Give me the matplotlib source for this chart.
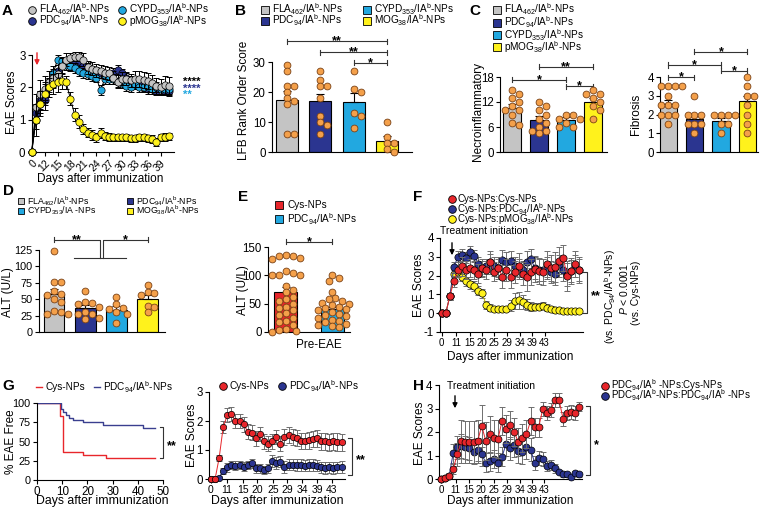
import numpy as np
import matplotlib
matplotlib.use('Agg')
import matplotlib.pyplot as plt
import matplotlib.transforms as mtransforms
from matplotlib.lines import Line2D
from matplotlib.patches import FancyArrowPatch

plt.rcParams['font.family'] = ['Liberation Sans', 'DejaVu Sans']
plt.rcParams['mathtext.fontset'] = 'custom'
plt.rcParams['mathtext.rm'] = 'Liberation Sans'
plt.rcParams['mathtext.it'] = 'Liberation Sans:italic'
plt.rcParams['mathtext.bf'] = 'Liberation Sans:bold'
plt.rcParams['axes.unicode_minus'] = False

# ------------------------------------------------------------------ DATA
# Panel A (EAE scores, 4 NP groups)
a_days = [0, 10, 11, 12, 13, 14, 15, 16, 17, 18, 19, 20, 21, 22, 23, 24, 25, 26,
          27, 28, 29, 30, 31, 32, 33, 34, 35, 36, 37, 38, 39, 40, 41]
a_tick_days = [0, 12, 15, 18, 21, 24, 27, 30, 33, 36, 39]
a_fla = [0, 1.4, 1.78, 1.95, 2.15, 2.28, 2.4, 2.65, 2.85, 2.9, 2.95, 2.95, 2.85, 2.62, 2.57, 2.53, 2.5,
         2.45, 2.43, 2.3, 2.17, 2.27, 2.27, 2.22, 2.25, 2.27, 2.22, 2.19, 2.12, 2.05, 2.0, 2.06, 2.03]
a_fla_err = [0, 0.4, 0.45, 0.4, 0.35, 0.3, 0.3, 0.25, 0.2, 0.15, 0.15, 0.15, 0.2, 0.2, 0.2, 0.2, 0.2,
             0.2, 0.2, 0.2, 0.2, 0.2, 0.2, 0.2, 0.25, 0.25, 0.25, 0.25, 0.25, 0.25, 0.25, 0.3, 0.3]
a_pdc = [0, 1.2, 1.6, 1.6, 2.05, 2.2, 2.5, 2.75, 2.75, 2.7, 2.75, 2.8, 2.65, 2.6, 2.5, 2.48, 2.43,
         2.4, 2.35, 2.45, 2.55, 2.43, 2.3, 2.2, 2.15, 2.1, 2.05, 1.95, 2.0, 1.9, 1.95, 1.9, 1.9]
a_pdc_err = [0, 0.3, 0.3, 0.3, 0.25, 0.2, 0.2, 0.15, 0.15, 0.15, 0.15, 0.15, 0.15, 0.15, 0.15, 0.15, 0.15,
             0.15, 0.15, 0.15, 0.15, 0.15, 0.15, 0.15, 0.15, 0.15, 0.15, 0.15, 0.15, 0.15, 0.15, 0.15, 0.15]
a_cypd = [0, 1.0, 1.5, 1.85, 2.05, 2.45, 2.85, 2.8, 2.7, 2.65, 2.6, 2.5, 2.45, 2.4, 2.35, 2.3, 1.92,
          2.25, 2.25, 2.25, 2.15, 2.12, 2.05, 2.0, 2.1, 2.0, 2.0, 2.0, 1.95, 2.0, 1.95, 1.95, 1.95]
a_cypd_err = [0, 0.3, 0.3, 0.25, 0.2, 0.2, 0.15, 0.15, 0.15, 0.15, 0.15, 0.15, 0.15, 0.15, 0.15, 0.15, 0.15,
              0.15, 0.15, 0.15, 0.15, 0.15, 0.15, 0.15, 0.15, 0.15, 0.15, 0.15, 0.15, 0.15, 0.15, 0.15, 0.15]
a_mog = [0, 1.0, 1.5, 1.8, 2.0, 2.1, 2.15, 2.2, 2.15, 1.65, 1.15, 0.93, 0.72, 0.6, 0.52, 0.45, 0.58,
         0.5, 0.47, 0.45, 0.45, 0.45, 0.45, 0.42, 0.42, 0.45, 0.45, 0.42, 0.4, 0.3, 0.45, 0.47, 0.48]
a_mog_err = [0, 0.5, 0.4, 0.35, 0.3, 0.3, 0.3, 0.25, 0.2, 0.2, 0.2, 0.2, 0.15, 0.15, 0.15, 0.15, 0.15,
             0.12, 0.12, 0.12, 0.12, 0.12, 0.12, 0.12, 0.12, 0.12, 0.12, 0.12, 0.12, 0.12, 0.12, 0.12, 0.12]

# Panel B (LFB rank order score)
b_means = [17.5, 17.0, 16.8, 3.7]
b_sems = [2.8, 2.5, 2.8, 1.5]
b_dots = [[29, 27, 22, 22, 20, 18, 17, 16, 6, 6],
          [27, 24, 22, 22, 18, 12, 10, 9, 6],
          [27, 21, 20, 13, 12, 8],
          [10, 5, 3, 3, 1, 0]]

# Panel C (necroinflammatory / fibrosis)
c1_means = [10.5, 7.6, 7.8, 12.0]
c1_sems = [1.0, 1.1, 0.7, 0.9]
c1_dots = [[15, 14, 13, 12, 11, 10, 10, 9, 7, 6.5],
           [12, 11, 10, 9, 8, 7, 6, 5, 5, 4.5],
           [9, 9, 8, 8, 7, 6, 6],
           [15, 14, 14, 13, 12, 11, 10, 8]]
c2_means = [2.55, 1.75, 1.65, 2.7]
c2_sems = [0.2, 0.18, 0.15, 0.3]
c2_dots = [[3.5, 3.5, 3.5, 3.5, 3, 2.5, 2.5, 2.5, 2, 2, 2, 1.5],
           [3, 2, 2, 2, 1.5, 1.5, 1.5, 1],
           [2, 2, 2, 2, 1.5, 1.5, 1],
           [4, 3.5, 3, 3, 2.5, 2, 1.5, 1]]

# Panel D (ALT)
d_means = [58, 37, 34, 51]
d_sems = [7, 4, 5, 5]
d_dots = [[123, 76, 76, 62, 58, 56, 50, 45, 32, 30, 28, 27],
          [62, 46, 44, 42, 38, 31, 28, 27, 22, 20],
          [54, 42, 36, 35, 30, 28, 13],
          [71, 61, 60, 56, 40, 38, 30]]

# Panel E (ALT pre-EAE)
e_means = [70, 40]
e_sems = [9, 5]
e_dots = [[136, 135, 134, 130, 128, 108, 105, 100, 100, 100, 82, 75, 70, 62, 58, 55, 50, 45,
           42, 38, 33, 30, 25, 20, 18, 12, 5, 3, 2, 0],
          [100, 95, 90, 70, 60, 58, 55, 52, 50, 48, 45, 42, 40, 38, 35, 32, 30, 28, 25, 22,
           20, 18, 15, 12, 10, 8]]

# Panel F / G / H shared day tick labels
fh_tick_labels = ['0', '11', '15', '20', '25', '29', '34', '39', '43']

# Panel F
f_red = [0, 0, 0.9, 1.7, 2.3, 2.5, 2.3, 2.4, 2.3, 2.1, 2.4, 2.3, 2.7, 2.2, 2.4, 1.95, 2.3, 1.95,
         2.2, 2.5, 2.1, 1.9, 2.2, 2.35, 2.25, 2.2, 2.6, 2.4, 2.45, 2.8, 2.95, 2.0, 2.25, 2.6, 2.3]
f_red_err = [0, 0, 0.2, 0.3, 0.4, 0.5, 0.5, 0.5, 0.5, 0.5, 0.5, 0.5, 0.6, 0.5, 0.6, 0.6, 0.6, 0.6,
             0.6, 0.7, 0.6, 0.7, 0.7, 0.7, 0.7, 0.7, 0.7, 0.7, 0.8, 0.7, 0.7, 0.8, 0.7, 0.7, 0.7]
f_blue = [0, 0, 0.9, 2.45, 3.0, 3.1, 2.95, 3.25, 3.05, 2.6, 2.4, 2.5, 2.75, 2.5, 2.4, 2.85, 2.75, 2.8,
          2.5, 2.4, 2.3, 2.7, 2.9, 2.4, 2.3, 2.3, 2.4, 2.2, 2.1, 2.5, 2.3, 2.05, 2.25, 2.5, 2.3]
f_blue_err = [0, 0, 0.2, 0.3, 0.3, 0.3, 0.3, 0.3, 0.3, 0.4, 0.4, 0.4, 0.4, 0.5, 0.5, 0.5, 0.5, 0.5,
              0.5, 0.5, 0.5, 0.6, 0.5, 0.6, 0.6, 0.6, 0.6, 0.6, 0.6, 0.6, 0.6, 0.6, 0.6, 0.6, 0.6]
f_yel = [0, 0, 0.9, 2.1, 2.2, 1.95, 1.7, 1.55, 1.45, 1.2, 1.05, 0.45, 0.3, 0.25, 0.2, 0.2, 0.25, 0.4,
         0.65, 0.7, 0.6, 0.45, 0.35, 0.35, 0.35, 0.4, 0.3, 0.25, 0.15, 0.15, 0.1, 0.1, 0.1, 0.1, 0.1]
f_yel_err = [0, 0, 0.2, 0.2, 0.25, 0.25, 0.25, 0.25, 0.25, 0.25, 0.25, 0.2, 0.2, 0.15, 0.15, 0.15, 0.15, 0.3,
             0.4, 0.45, 0.35, 0.3, 0.25, 0.2, 0.2, 0.2, 0.2, 0.15, 0.15, 0.15, 0.1, 0.1, 0.1, 0.1, 0.1]

# Panel G left (Kaplan-Meier, % EAE free)
g_km_red_t = [0, 9.3, 10.2, 18.1, 27.4, 47]
g_km_red_v = [100, 83, 37, 33, 29, 29]
g_km_blue_t = [0, 9.4, 10.2, 11.5, 12.8, 14.2, 18.1, 26.3, 42.2, 47]
g_km_blue_v = [100, 92, 88, 84, 80, 78, 75, 71, 67, 67]

# Panel G right (EAE scores)
g_red = [0, 0, 0.73, 1.8, 2.2, 2.25, 2.0, 2.0, 1.88, 1.63, 1.6, 1.4, 1.55, 1.3, 1.22, 1.3, 1.45,
         1.22, 1.45, 1.53, 1.45, 1.42, 1.3, 1.3, 1.33, 1.37, 1.4, 1.3, 1.3, 1.26, 1.3, 1.28, 1.26]
g_red_err = [0, 0, 0.1, 0.2, 0.25, 0.25, 0.25, 0.25, 0.25, 0.25, 0.25, 0.25, 0.25, 0.25, 0.25, 0.25, 0.25,
             0.25, 0.28, 0.28, 0.28, 0.28, 0.28, 0.28, 0.28, 0.28, 0.28, 0.3, 0.3, 0.3, 0.3, 0.3, 0.3]
g_blue = [0, 0, 0.05, 0.28, 0.4, 0.48, 0.46, 0.48, 0.42, 0.48, 0.54, 0.37, 0.37, 0.31, 0.37, 0.62, 0.56,
          0.6, 0.42, 0.5, 0.5, 0.48, 0.48, 0.46, 0.48, 0.48, 0.46, 0.4, 0.37, 0.4, 0.37, 0.4, 0.42]
g_blue_err = [0, 0, 0.05, 0.1, 0.15, 0.15, 0.15, 0.15, 0.15, 0.15, 0.15, 0.15, 0.15, 0.15, 0.15, 0.2, 0.2,
              0.2, 0.2, 0.2, 0.2, 0.2, 0.2, 0.2, 0.2, 0.2, 0.2, 0.2, 0.2, 0.2, 0.2, 0.2, 0.2]

# Panel H
h_red = [0, 0.03, 0.14, 0.43, 1.05, 1.6, 1.58, 1.56, 1.56, 1.6, 2.27, 1.62, 1.9, 1.73, 1.7, 2.47, 2.13,
         2.3, 2.0, 1.56, 1.73, 1.9, 2.47, 2.2, 2.2, 2.98, 2.8, 2.95, 3.36, 3.36, 2.55, 2.8, 2.87, 2.8, 3.08]
h_red_err = [0, 0.05, 0.1, 0.2, 0.5, 0.9, 0.9, 0.9, 0.9, 0.9, 0.9, 0.8, 0.8, 0.8, 0.8, 0.6, 0.6,
             0.6, 0.6, 0.6, 0.6, 0.6, 0.6, 0.4, 0.4, 0.3, 0.3, 0.3, 0.3, 0.3, 0.3, 0.3, 0.3, 0.3, 0.2]
h_blue = [0, 0.03, 0.14, 1.1, 1.35, 1.4, 1.35, 1.3, 1.15, 1.25, 1.05, 0.7, 0.75, 0.85, 0.7, 0.95, 1.5,
          1.3, 1.45, 1.2, 1.15, 1.35, 1.25, 0.7, 0.9, 0.85, 0.55, 0.6, 0.45, 0.3, 0.2, 0.2, 0.1, 0.25, 0.2]
h_blue_err = [0, 0.05, 0.1, 0.4, 0.5, 0.5, 0.5, 0.5, 0.5, 0.5, 0.5, 0.4, 0.4, 0.4, 0.4, 0.4, 0.5,
              0.5, 0.5, 0.5, 0.5, 0.5, 0.5, 0.3, 0.3, 0.3, 0.2, 0.2, 0.2, 0.1, 0.1, 0.1, 0.1, 0.1, 0.1]

# ------------------------------------------------------------------ STYLE
W, H = 768, 516
GREY = '#C4C4C4'
NAVY = '#2B3590'
CYAN = '#22A8E0'
YELLOW = '#FFF21C'
RED = '#E8262B'
ORANGE = '#F4A04A'
ORANGE_E = '#7A4216'
ERRG = '#6E6E6E'
TICK_FS = 8.3
XT_FS = 7.0
LAB_FS = 8.5
LEG_FS = 7.2

fig = plt.figure(figsize=(W / 100, H / 100), dpi=100)


def add_ax(x0, y0, x1, y1):
    ax = fig.add_axes([x0 / W, 1 - y1 / H, (x1 - x0) / W, (y1 - y0) / H])
    for s in ['top', 'right']:
        ax.spines[s].set_visible(False)
    for s in ['left', 'bottom']:
        ax.spines[s].set_linewidth(0.8)
    ax.tick_params(direction='out', length=3, width=0.8, labelsize=TICK_FS, pad=1.5)
    ax.patch.set_alpha(0)
    return ax


def ftext(x, y, s, **kw):
    return fig.text(x / W, 1 - y / H, s, **kw)


def scales(ax):
    b = ax.get_position()
    x0, x1 = ax.get_xlim()
    y0, y1 = ax.get_ylim()
    return b.width * W / (x1 - x0), b.height * H / (y1 - y0)


def star_data(ax, x, y, s, fs=9, dy_px=-3.5, ha='center', color='black'):
    tr = mtransforms.offset_copy(ax.transData, fig=fig, x=0, y=dy_px, units='dots')
    ax.text(x, y, s, transform=tr, ha=ha, va='baseline', fontsize=fs, fontweight='bold',
            color=color, clip_on=False)


def hbracket(ax, x1, x2, y, s, cap_px=2.5, fs=9):
    xs, ys = scales(ax)
    c = cap_px / ys
    kw = dict(color='#333333', lw=0.8, clip_on=False)
    ax.plot([x1, x2], [y, y], **kw)
    ax.plot([x1, x1], [y - c, y + c], **kw)
    ax.plot([x2, x2], [y - c, y + c], **kw)
    if s:
        star_data(ax, (x1 + x2) / 2, y, s, fs=fs)


def vbracket(ax, x, y1, y2, s, cap_px=4, fs=9, gap_px=4):
    xs, ys = scales(ax)
    c = cap_px / xs
    ax.plot([x - c, x, x, x - c], [y1, y1, y2, y2], color='#333333', lw=0.8, clip_on=False)
    em = fs * 100 / 72
    tr = mtransforms.offset_copy(ax.transData, fig=fig, x=gap_px, y=-0.57 * em, units='dots')
    ax.text(x, (y1 + y2) / 2, s, transform=tr, ha='left', va='baseline', fontsize=fs,
            fontweight='bold', clip_on=False)


def swarm(vals, xscale, yscale, d):
    vals = np.asarray(vals, float)
    order = np.argsort(-vals, kind='stable')
    placed = []
    offs = np.zeros(len(vals))
    for k in order:
        y = vals[k] * yscale
        best = 0.0
        for step in [0, 1, -1, 2, -2, 3, -3, 4, -4, 5, -5]:
            xo = step * d * 0.52
            if all((xo - px) ** 2 + (y - py) ** 2 >= (d * 0.9) ** 2 for px, py in placed):
                best = xo
                break
        placed.append((best, y))
        offs[k] = best / xscale
    return offs


def bar_panel(ax, means, sems, dots, colors, width, xlim, ylim, yticks):
    ax.set_xlim(*xlim)
    ax.set_ylim(*ylim)
    xs = np.arange(len(means))
    ax.bar(xs, means, width=width, color=colors, edgecolor='black', linewidth=0.8, zorder=2)
    ax.errorbar(xs, means, yerr=[np.zeros(len(sems)), sems], fmt='none', ecolor='black',
                elinewidth=0.8, capsize=3, capthick=0.8, zorder=3)
    sx, sy = scales(ax)
    for i, vals in enumerate(dots):
        offs = swarm(vals, sx, sy, 6.6)
        ax.scatter(i + offs, vals, s=24, c=ORANGE, edgecolors=ORANGE_E, linewidths=0.6,
                   zorder=4, clip_on=False)
    ax.set_xticks([])
    ax.set_yticks(yticks)


def series(ax, x, y, err, color, ms, zorder, line_color=None, ecolor='black'):
    ax.errorbar(x, y, yerr=err, fmt='none', ecolor=ecolor, elinewidth=0.7, capsize=2.2,
                capthick=0.7, zorder=zorder, clip_on=False)
    ax.plot(x, y, '-', color=line_color or color, lw=0.7, zorder=zorder + 0.2, clip_on=False)
    ax.plot(x, y, 'o', ms=ms, mfc=color, mec='black', mew=0.5, zorder=zorder + 0.4, clip_on=False)


def leg_item(x, y, marker, color, text, tx=None, ms=5.5, fs=LEG_FS, mec='black'):
    fig.add_artist(Line2D([x / W], [1 - y / H], marker=marker, ms=ms, mfc=color, mec=mec,
                          mew=0.6, ls='none', transform=fig.transFigure))
    ftext(tx if tx is not None else x + 7, y, text, fontsize=fs, va='center', ha='left')


def leg_line(x0, x1, y, color, text, tx, fs=LEG_FS):
    fig.add_artist(Line2D([x0 / W, x1 / W], [1 - y / H, 1 - y / H], color=color, lw=1,
                          transform=fig.transFigure))
    ftext(tx, y, text, fontsize=fs, va='center', ha='left')


def farrow(x, y0, y1, color):
    fig.add_artist(FancyArrowPatch((x / W, 1 - y0 / H), (x / W, 1 - y1 / H),
                                   transform=fig.transFigure, arrowstyle='-|>',
                                   mutation_scale=7, color=color, lw=1))


def fstars(x, yc, s, color, fs=8):
    ftext(x, yc + 0.57 * fs * 100 / 72 - 1, s, fontsize=fs, fontweight='bold', color=color,
          va='baseline', ha='left')


FLA = r'FLA$_{\mathregular{462}}$/IA$^{\mathregular{b}}$-NPs'
PDC = r'PDC$_{\mathregular{94}}$/IA$^{\mathregular{b}}$-NPs'
CYPD = r'CYPD$_{\mathregular{353}}$/IA$^{\mathregular{b}}$-NPs'
PMOG = r'pMOG$_{\mathregular{38}}$/IA$^{\mathregular{b}}$-NPs'
MOG = r'MOG$_{\mathregular{38}}$/IA$^{\mathregular{b}}$-NPs'

# panel letters
for lab, (x, y) in {'A': (7, 11), 'B': (241, 11), 'C': (475, 11), 'D': (9, 191),
                    'E': (243, 197), 'F': (418, 197), 'G': (8, 386), 'H': (418, 386)}.items():
    ftext(x, y, lab, fontsize=11, fontweight='bold', ha='center', va='center')

# ------------------------------------------------------------------ A
axA = add_ax(31.7, 55, 173.6, 152)
axA.set_xlim(0, 33)
axA.set_ylim(0, 3)
xa = np.arange(len(a_days))
series(axA, xa, a_pdc, a_pdc_err, NAVY, 5.2, 3, line_color='black')
series(axA, xa, a_cypd, a_cypd_err, CYAN, 5.2, 4, line_color='black')
series(axA, xa, a_fla, a_fla_err, GREY, 5.2, 5, line_color='black')
series(axA, xa, a_mog, a_mog_err, YELLOW, 5.2, 6, line_color='black')
axA.set_xticks([a_days.index(d) for d in a_tick_days])
axA.set_xticklabels([str(d) for d in a_tick_days], rotation=45, ha='right',
                    rotation_mode='anchor', fontsize=7.5)
axA.set_yticks([0, 1, 2, 3])
farrow(37, 50, 68, RED)
fstars(183, 80, '****', 'black')
fstars(183, 86.5, '****', NAVY)
fstars(183, 93, '**', CYAN)
ftext(12, 102, 'EAE Scores', rotation=90, fontsize=LAB_FS, ha='center', va='center')
ftext(100, 179, 'Days after immunization', fontsize=LAB_FS, ha='center', va='center')
leg_item(32, 9.5, 'o', GREY, FLA)
leg_item(32, 20.7, 'o', NAVY, PDC)
leg_item(122, 9.5, 'o', CYAN, CYPD)
leg_item(122, 20.7, 'o', YELLOW, PMOG)

# ------------------------------------------------------------------ B
axB = add_ax(272, 62, 412, 152)
bar_panel(axB, b_means, b_sems, b_dots, [GREY, NAVY, CYAN, YELLOW], 0.66,
          (-0.45, 3.75), (0, 30), [0, 10, 20, 30])
hbracket(axB, 0, 3, 37, '**')
hbracket(axB, 1, 3, 33.3, '**')
hbracket(axB, 2, 3, 29.7, '*')
ftext(244, 100, 'LFB Rank Order Score', rotation=90, fontsize=LAB_FS, ha='center', va='center')
leg_item(265, 9.5, 's', GREY, FLA, ms=6)
leg_item(265, 20.7, 's', NAVY, PDC, ms=6)
leg_item(367, 9.5, 's', CYAN, CYPD, ms=6)
leg_item(367, 20.7, 's', YELLOW, MOG, ms=6)

# ------------------------------------------------------------------ C
axC1 = add_ax(500, 77, 607, 152)
bar_panel(axC1, c1_means, c1_sems, c1_dots, [GREY, NAVY, CYAN, YELLOW], 0.67,
          (-0.44, 3.52), (0, 18), [0, 6, 12, 18])
hbracket(axC1, 0, 2, 17.3, '*')
hbracket(axC1, 1, 3, 20.5, '**')
hbracket(axC1, 2, 3, 15.8, '*')
ftext(478, 112, 'Necroinflammatory', rotation=90, fontsize=LAB_FS, ha='center', va='center')

axC2 = add_ax(660, 77, 758, 152)
bar_panel(axC2, c2_means, c2_sems, c2_dots, [GREY, NAVY, CYAN, YELLOW], 0.66,
          (-0.3, 3.4), (0, 4), [0, 1, 2, 3, 4])
hbracket(axC2, 0, 1, 4.0, '*')
hbracket(axC2, 0, 2, 4.64, '*')
hbracket(axC2, 1, 3, 5.35, '*')
hbracket(axC2, 2, 3, 4.34, '*')
ftext(636, 114, 'Fibrosis', rotation=90, fontsize=LAB_FS, ha='center', va='center')
leg_item(497, 9.5, 's', GREY, FLA, ms=6)
leg_item(497, 22.5, 's', NAVY, PDC, ms=6)
leg_item(497, 35, 's', CYAN, CYPD, ms=6)
leg_item(497, 47, 's', YELLOW, PMOG, ms=6)

# ------------------------------------------------------------------ D
axD = add_ax(39, 250, 165, 332)
bar_panel(axD, d_means, d_sems, d_dots, [GREY, NAVY, CYAN, YELLOW], 0.67,
          (-0.48, 3.56), (0, 125), [0, 25, 50, 75, 100, 125])
axD.tick_params(labelsize=7.8)
kw = dict(color='#333333', lw=0.8, clip_on=False)
sxD, syD = scales(axD)
cD = 2.5 / syD
axD.plot([0, 1.47, 1.47], [141, 141, 113], **kw)
axD.plot([3, 1.58, 1.58], [141, 141, 113], **kw)
axD.plot([0.64, 2.3], [113, 113], **kw)
axD.plot([0, 0], [141 - cD, 141 + cD], **kw)
axD.plot([3, 3], [141 - cD, 141 + cD], **kw)
star_data(axD, 0.74, 141, '**')
star_data(axD, 2.29, 141, '*')
ftext(8, 292, 'ALT (U/L)', rotation=90, fontsize=LAB_FS, ha='center', va='center')
leg_item(21, 201, 's', GREY, FLA, ms=5, fs=6.3, tx=27)
leg_item(21, 210.5, 's', CYAN, r'CYPD$_{\mathregular{353}}$/IA -NPs', ms=5, fs=6.3, tx=27)
leg_item(130, 201, 's', NAVY, PDC, ms=5, fs=6.3, tx=136)
leg_item(130, 210.5, 's', YELLOW, MOG, ms=5, fs=6.3, tx=136)

# ------------------------------------------------------------------ E
axE = add_ax(268, 247, 350, 332)
bar_panel(axE, e_means, e_sems, e_dots, [RED, CYAN], 0.5,
          (-0.39, 1.39), (0, 150), [0, 50, 100, 150])
hbracket(axE, 0, 1, 159, '*')
ftext(243, 290, 'ALT (U/L)', rotation=90, fontsize=LAB_FS, ha='center', va='center')
ftext(319, 345, 'Pre-EAE', fontsize=LAB_FS, ha='center', va='center')
leg_item(279, 205, 's', RED, 'Cys-NPs', ms=6, tx=287)
leg_item(279, 219, 's', CYAN, PDC, ms=6, tx=287)

# ------------------------------------------------------------------ F
axF = add_ax(440, 238, 583, 332)
axF.set_xlim(-0.42, 34.9)
axF.set_ylim(-1, 4)
xf = np.arange(len(f_red))
series(axF, xf, f_yel, f_yel_err, YELLOW, 5.2, 3, ecolor=ERRG, line_color='#B8B000')
series(axF, xf, f_blue, f_blue_err, NAVY, 5.2, 4, ecolor=ERRG)
series(axF, xf, f_red, f_red_err, RED, 5.2, 5, ecolor=ERRG)
fh_tick_pos = [0, 3.6, 6.9, 9.9, 13.0, 16.1, 19.4, 22.4, 25.4]
axF.set_xticks(fh_tick_pos)
axF.set_xticklabels(fh_tick_labels, fontsize=XT_FS)
axF.set_yticks([-1, 0, 1, 2, 3, 4])
vbracket(axF, 35.9, 0, 2.2, '**')
ftext(419, 285, 'EAE Scores', rotation=90, fontsize=LAB_FS, ha='center', va='center')
ftext(510, 357, 'Days after immunization', fontsize=LAB_FS, ha='center', va='center')
ftext(440, 231, 'Treatment initiation', fontsize=7.5, ha='left', va='center')
farrow(452, 240, 258, 'black')
ftext(610, 297, r'(vs. PDC$_{\mathregular{94}}$/IA$^{\mathregular{b}}$-NPs)', rotation=90,
      fontsize=7.5, ha='center', va='center')
ftext(624, 289, r'$\it{P}$ < 0.0001', rotation=90, fontsize=7.5, ha='center', va='center')
ftext(636, 293, '(vs. Cys-NPs)', rotation=90, fontsize=7.5, ha='center', va='center')
leg_item(452, 199, 'o', RED, 'Cys-NPs:Cys-NPs', ms=5.5, tx=457, fs=7)
leg_item(452, 209, 'o', NAVY, r'Cys-NPs:PDC$_{\mathregular{94}}$/IA$^{\mathregular{b}}$-NPs', ms=5.5, tx=457, fs=7)
leg_item(452, 219, 'o', YELLOW, r'Cys-NPs:pMOG$_{\mathregular{38}}$/IA$^{\mathregular{b}}$-NPs', ms=5.5, tx=457, fs=7)

# ------------------------------------------------------------------ G left
axG1 = add_ax(37, 403, 163, 480)
axG1.set_xlim(0, 50)
axG1.set_ylim(0, 100)
axG1.step(g_km_red_t, g_km_red_v, where='post', color=RED, lw=1)
axG1.step(g_km_blue_t, g_km_blue_v, where='post', color='#3A3F8F', lw=1)
axG1.set_xticks([0, 10, 20, 30, 40, 50])
axG1.set_yticks([0, 25, 50, 75, 100])
axG1.tick_params(axis='y', labelsize=7.8)
axG1.tick_params(axis='x', labelsize=8.4)
vbracket(axG1, 50, 29, 69, '**', cap_px=3)
ftext(11, 442, '% EAE Free', rotation=90, fontsize=LAB_FS, ha='center', va='center')
ftext(102, 501, 'Days after immunization', fontsize=8.8, ha='center', va='center')
leg_line(36, 42, 387, RED, 'Cys-NPs', 46)
leg_line(94, 100, 387, '#3A3F8F', PDC, 103)

# ------------------------------------------------------------------ G right
axG2 = add_ax(209, 392, 345, 479)
axG2.set_xlim(-0.49, 32.84)
axG2.set_ylim(0, 3)
xg = np.arange(len(g_red))
series(axG2, xg, g_blue, g_blue_err, NAVY, 4.6, 3, ecolor=ERRG)
series(axG2, xg, g_red, g_red_err, RED, 4.6, 4, ecolor=ERRG)
g_tick_pos = [0, 3.9, 7.8, 11.3, 15.2, 18.6, 22.3, 26.0, 29.6]
axG2.set_xticks(g_tick_pos)
axG2.set_xticklabels(fh_tick_labels, fontsize=7.5)
axG2.set_yticks([0, 1, 2, 3])
vbracket(axG2, 34.6, 0.15, 1.42, '**')
ftext(192, 435, 'EAE Scores', rotation=90, fontsize=LAB_FS, ha='center', va='center')
ftext(277, 501, 'Days after immunization', fontsize=8.8, ha='center', va='center')
leg_item(223, 386, 'o', RED, 'Cys-NPs', ms=5.5, tx=230)
leg_item(282, 386, 'o', NAVY, PDC, ms=5.5, tx=289)

# ------------------------------------------------------------------ H
axH = add_ax(439, 385, 582, 479)
axH.set_xlim(-0.49, 34.64)
axH.set_ylim(0, 4)
xh = np.arange(len(h_red))
series(axH, xh, h_blue, h_blue_err, NAVY, 5.0, 3, ecolor=ERRG)
series(axH, xh, h_red, h_red_err, RED, 5.0, 4, ecolor=ERRG)
axH.set_xticks(fh_tick_pos)
axH.set_xticklabels(fh_tick_labels, fontsize=XT_FS)
axH.set_yticks([0, 1, 2, 3, 4])
vbracket(axH, 36.6, 0.17, 3.1, '*')
ftext(420, 433, 'EAE Scores', rotation=90, fontsize=LAB_FS, ha='center', va='center')
ftext(510, 501, 'Days after immunization', fontsize=LAB_FS, ha='center', va='center')
ftext(447, 386, 'Treatment initiation', fontsize=7.5, ha='left', va='center')
farrow(455, 393, 411, 'black')
leg_item(605, 385.5, 'o', RED, r'PDC$_{\mathregular{94}}$/IA$^{\mathregular{b}}$ -NPs:Cys-NPs',
         ms=5.5, tx=611, fs=7)
leg_item(605, 395.5, 'o', NAVY,
         r'PDC$_{\mathregular{94}}$/IA$^{\mathregular{b}}$-NPs:PDC$_{\mathregular{94}}$/IA$^{\mathregular{b}}$ -NPs',
         ms=5.5, tx=611, fs=7)

fig.savefig('out.png', dpi=100)
